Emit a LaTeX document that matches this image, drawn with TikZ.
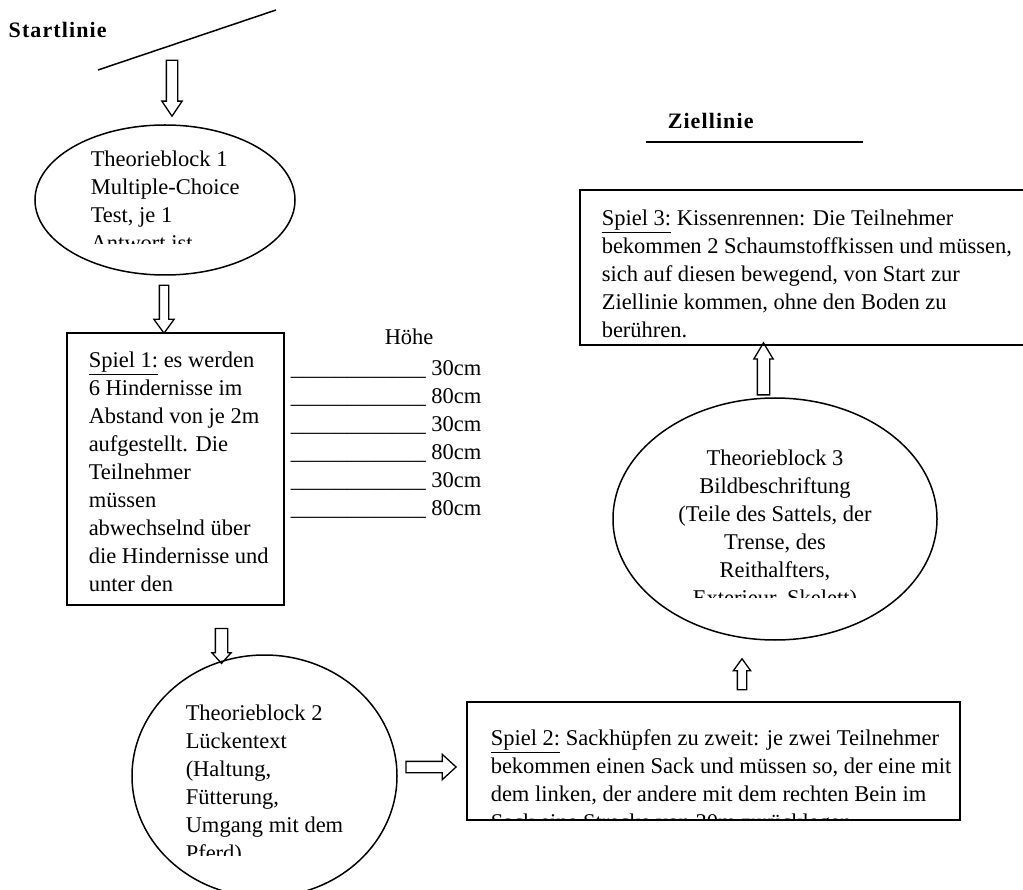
\documentclass[tikz,border=0pt]{standalone}
\usepackage{fontspec}
\setmainfont{Liberation Serif}
\newfontfamily\spacedfont[LetterSpace=5]{Liberation Serif}
\usetikzlibrary{shapes.geometric,shapes.arrows}
\begin{document}
\begin{tikzpicture}[x=1pt,y=-1pt,line width=1.5pt,
  txt/.style={inner sep=0pt,font=\fontsize{22.5}{28}\selectfont,anchor=north west,align=left},
  ctxt/.style={inner sep=0pt,font=\fontsize{22.5}{28}\selectfont,anchor=north,align=center},
  title/.style={inner sep=0pt,anchor=base west,font=\spacedfont\fontsize{22}{26}\selectfont\bfseries},
  ell/.style={draw,ellipse,inner sep=0pt},
  box/.style={draw,rectangle,inner sep=0pt},
  barrow/.style={draw,single arrow,inner xsep=0pt,line width=1.3pt,sloped}
]
\useasboundingbox (0,0) rectangle (1023,890);

% Start and finish lines
\node[title] (start) at (8,38) {Startlinie};
\coordinate (sl1) at (98,70);
\coordinate (sl2) at (276,10);
\draw (sl1) -- (sl2);
\node[title] (ziel) at (667,129) {Ziellinie};
\coordinate (zl1) at (646,142);
\coordinate (zl2) at (863,142);
\draw (zl1) -- (zl2);

% Shapes
\node[ell,minimum width=260pt,minimum height=150pt] (tb1) at (165,200) {};
\node[box,minimum width=217pt,minimum height=272pt] (sp1) at (175.5,469) {};
\node[ell,minimum width=265pt,minimum height=242pt] (tb2) at (264.5,776) {};
\node[box,minimum width=493pt,minimum height=118pt] (sp2) at (713.5,761) {};
\node[ell,minimum width=324pt,minimum height=242pt] (tb3) at (775,519) {};
\node[box,minimum width=450pt,minimum height=155pt] (sp3) at (805,267.5) {};

% Texts
\begin{scope}
\clip (80,130) rectangle (300,244);
\node[txt] (t1) at (90,146.4) {\strut Theorieblock 1\\Multiple-Choice\\Test, je 1\\Antwort ist};
\end{scope}
\node[txt] (t2) at (88,347.4) {\strut\underline{Spiel 1:} es werden\\6 Hindernisse im\\Abstand von je 2m\\aufgestellt. Die\\Teilnehmer\\müssen\\abwechselnd über\\die Hindernisse und\\unter den};
\node[inner sep=0pt,anchor=base west,font=\fontsize{22.5}{28}\selectfont] (hoehe) at (384,345) {Höhe};
\node[txt] (hl) at (290,355.4) {\strut\_\_\_\_\_\_\_\_\_\_\_\_ 30cm\\\_\_\_\_\_\_\_\_\_\_\_\_ 80cm\\\_\_\_\_\_\_\_\_\_\_\_\_ 30cm\\\_\_\_\_\_\_\_\_\_\_\_\_ 80cm\\\_\_\_\_\_\_\_\_\_\_\_\_ 30cm\\\_\_\_\_\_\_\_\_\_\_\_\_ 80cm};
\begin{scope}
\clip (180,690) rectangle (400,855);
\node[txt] (t3) at (185,700.4) {\strut Theorieblock 2\\Lückentext\\(Haltung,\\Fütterung,\\Umgang mit dem\\Pferd)};
\end{scope}
\begin{scope}
\clip (470,705) rectangle (958,819.5);
\node[txt] (t4) at (490,725.4) {\strut\underline{Spiel 2:} Sackhüpfen zu zweit: je zwei Teilnehmer\\bekommen einen Sack und müssen so, der eine mit\\dem linken, der andere mit dem rechten Bein im\\Sack eine Strecke von 30m zurücklegen.};
\end{scope}
\begin{scope}
\clip (620,440) rectangle (930,597);
\node[ctxt] (t5) at (775,445.4) {\strut Theorieblock 3\\Bildbeschriftung\\(Teile des Sattels, der\\Trense, des\\Reithalfters,\\Exterieur, Skelett)};
\end{scope}
\node[txt] (t6) at (601,205.4) {\strut\underline{Spiel 3:} Kissenrennen: Die Teilnehmer\\bekommen 2 Schaumstoffkissen und müssen,\\sich auf diesen bewegend, von Start zur\\Ziellinie kommen, ohne den Boden zu\\berühren.};

% Block arrows
\coordinate (a1s) at (172,56);   \coordinate (a1e) at (172,112);
\coordinate (a2s) at (164,282);  \coordinate (a2e) at (164,330);
\coordinate (a3s) at (221.5,625);\coordinate (a3e) at (221.5,660);
\coordinate (a4s) at (403,767);  \coordinate (a4e) at (453,767);
\coordinate (a5s) at (742,693);  \coordinate (a5e) at (742,662);
\coordinate (a6s) at (763.5,400);\coordinate (a6e) at (763.5,348);
\path (a1s) -- (a1e) node[barrow,midway,minimum height=56pt,inner ysep=5pt,single arrow head extend=4.5pt,single arrow tip angle=68] (ar1) {};
\path (a2s) -- (a2e) node[barrow,midway,minimum height=48pt,inner ysep=4pt,single arrow head extend=5.5pt,single arrow tip angle=72] (ar2) {};
\path (a3s) -- (a3e) node[barrow,midway,minimum height=35pt,inner ysep=5.5pt,single arrow head extend=3.5pt,single arrow tip angle=84] (ar3) {};
\path (a4s) -- (a4e) node[barrow,midway,minimum height=50pt,inner ysep=5pt,single arrow head extend=7pt,single arrow tip angle=85] (ar4) {};
\path (a5s) -- (a5e) node[barrow,midway,minimum height=31pt,inner ysep=4pt,single arrow head extend=4pt,single arrow tip angle=72] (ar5) {};
\path (a6s) -- (a6e) node[barrow,midway,minimum height=52pt,inner ysep=5.5pt,single arrow head extend=3.5pt,single arrow tip angle=62] (ar6) {};
\end{tikzpicture}
\end{document}
